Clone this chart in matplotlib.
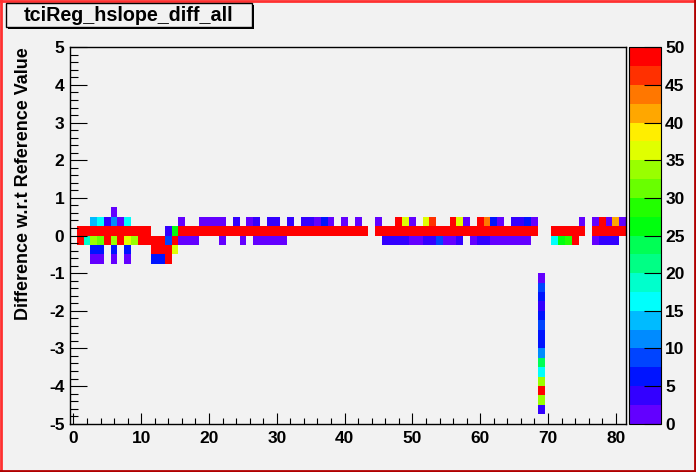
import colorsys
import numpy as np
import matplotlib
matplotlib.use("Agg")
import matplotlib.pyplot as plt
from matplotlib.colors import ListedColormap, BoundaryNorm
from matplotlib.patches import Rectangle
from matplotlib.lines import Line2D
from matplotlib.ticker import MultipleLocator

plt.rcParams["font.family"] = ["Liberation Sans", "DejaVu Sans"]
plt.rcParams["font.weight"] = "bold"
plt.rcParams["axes.unicode_minus"] = False

# ---------------- data ----------------
title = "tciReg_hslope_diff_all"
ylabel = "Difference w.r.t Reference Value"
x_lo, x_hi, n_xbins = -0.5, 81.5, 82
y_lo, y_hi, y_step = -5.0, 5.0, 0.25
z_min, z_max, n_levels = 0.0, 50.0, 20

# bin contents per y-row, keyed by x bin (row label = lower edge of the y bin)
row_p050 = {6: 1}
row_p025 = {3: 14, 4: 16, 5: 4, 6: 11, 7: 1, 8: 16, 16: 1, 19: 1, 20: 1, 21: 1,
            22: 1, 24: 4, 26: 1, 27: 4, 29: 4, 30: 4, 32: 4, 34: 4, 35: 4, 36: 1,
            37: 6, 38: 1, 40: 1, 42: 1, 45: 1, 48: 49, 49: 36, 50: 1, 52: 36,
            53: 46, 56: 49, 57: 36, 58: 1, 60: 49, 61: 44, 62: 6, 63: 1, 65: 4,
            66: 4, 67: 6, 68: 1, 75: 1, 77: 1, 78: 49, 79: 1, 80: 41, 81: 1}
row_p000 = {1: 49, 2: 49, 3: 49, 4: 49, 5: 49, 6: 49, 7: 49, 8: 49, 9: 49,
            10: 49, 11: 49, 14: 4, 15: 27,
            16: 49, 17: 49, 18: 49, 19: 49, 20: 49, 21: 49, 22: 49, 23: 49,
            24: 49, 25: 49, 26: 49, 27: 49, 28: 49, 29: 49, 30: 49, 31: 49,
            32: 49, 33: 49, 34: 49, 35: 49, 36: 49, 37: 49, 38: 49, 39: 49,
            40: 49, 41: 49, 42: 49, 43: 49,
            45: 49, 46: 49, 47: 49, 48: 49, 49: 49, 50: 49, 51: 49, 52: 49,
            53: 49, 54: 49, 55: 49, 56: 49, 57: 49, 58: 49, 59: 49, 60: 49,
            61: 49, 62: 49, 63: 49, 64: 49, 65: 49, 66: 49, 67: 49, 68: 49,
            71: 49, 72: 49, 73: 49, 74: 49, 75: 49,
            77: 49, 78: 49, 79: 49, 80: 49, 81: 49}
row_m025 = {1: 49, 2: 19, 3: 34, 4: 31, 5: 49, 6: 34, 7: 49, 8: 36, 9: 34,
            10: 49, 11: 49, 12: 49, 13: 49, 14: 9, 15: 49, 16: 1, 17: 1, 18: 1,
            22: 1, 25: 1, 27: 1, 28: 1, 29: 1, 30: 1, 31: 1,
            46: 4, 47: 4, 48: 4, 49: 4, 50: 1, 51: 1, 52: 4, 53: 4, 54: 8,
            55: 1, 56: 1, 57: 4, 59: 1, 60: 4, 61: 4, 62: 1, 63: 1, 64: 1,
            65: 1, 66: 1, 67: 1, 71: 16, 72: 26, 73: 29, 74: 49, 77: 1,
            78: 4, 79: 4, 80: 4}
row_m050 = {3: 6, 4: 6, 6: 6, 8: 6, 12: 49, 13: 49, 14: 49, 15: 36}
row_m075 = {3: 1, 4: 1, 6: 1, 8: 1, 12: 6, 13: 6, 14: 49}
rows = {0.5: row_p050, 0.25: row_p025, 0.0: row_p000,
        -0.25: row_m025, -0.5: row_m050, -0.75: row_m075}

# single column (x bin 69) from y = -1.0 down to -4.75
col_bin = 69
col_top = -1.0
col_vals = [1, 9, 6, 4, 6, 9, 6, 6, 11, 24, 16, 34, 49, 34, 4]

# ---------------- build histogram ----------------
x_edges = np.linspace(x_lo, x_hi, n_xbins + 1)
n_ybins = int(round((y_hi - y_lo) / y_step))
y_edges = np.linspace(y_lo, y_hi, n_ybins + 1)
H = np.full((n_ybins, n_xbins), np.nan)
for ylow, row in rows.items():
    k = int(round((ylow - y_lo) / y_step))
    for i, v in row.items():
        H[k, i] = v
for j, v in enumerate(col_vals):
    ylow = col_top - (j + 1) * y_step
    k = int(round((ylow - y_lo) / y_step))
    H[k, col_bin] = v

# ROOT "pretty" palette (50 colours) sampled by 20 contour levels
pal = []
for j in range(n_levels):
    idx = int((j + 0.99) * 50 / n_levels)
    hue = 280.0 - (idx + 1) * 5.6
    pal.append(colorsys.hls_to_rgb(hue / 360.0, 0.5, 1.0))
cmap = ListedColormap(pal)
bounds = np.linspace(z_min, z_max, n_levels + 1)
norm = BoundaryNorm(bounds, cmap.N, clip=True)

# ---------------- figure ----------------
W, Hpx = 696, 472
bg = "#f2f2f2"
fig = plt.figure(figsize=(W / 100, Hpx / 100), dpi=100, facecolor=bg)

def fx(px):
    return px / W

def fy(py):
    return 1 - py / Hpx

ax_l, ax_r, ax_t, ax_b = 70, 626, 47.3, 423.7
ax = fig.add_axes([fx(ax_l), fy(ax_b), fx(ax_r - ax_l), (ax_b - ax_t) / Hpx])
ax.set_facecolor(bg)
mesh = ax.pcolormesh(x_edges, y_edges, np.ma.masked_invalid(H), cmap=cmap,
                     norm=norm, edgecolors="none", antialiased=False)
ax.set_xlim(x_lo, x_hi)
ax.set_ylim(y_lo, y_hi)
ax.xaxis.set_major_locator(MultipleLocator(10))
ax.xaxis.set_minor_locator(MultipleLocator(2))
ax.yaxis.set_major_locator(MultipleLocator(1))
ax.yaxis.set_minor_locator(MultipleLocator(0.2))
ax.tick_params(axis="x", which="major", direction="in", length=11.3 * 0.72,
               width=0.8, pad=5, labelsize=12.5)
ax.tick_params(axis="x", which="minor", direction="in", length=5.6 * 0.72,
               width=0.8)
ax.tick_params(axis="y", which="major", direction="in", length=16.7 * 0.72,
               width=0.8, pad=4, labelsize=12.5)
ax.tick_params(axis="y", which="minor", direction="in", length=8.3 * 0.72,
               width=0.8)
for lab in ax.get_xticklabels() + ax.get_yticklabels():
    lab.set_fontweight("bold")
for s in ax.spines.values():
    s.set_linewidth(1.0)

fig.text(fx(24), fy(47), ylabel, rotation=90, ha="center", va="top",
         fontsize=13, fontweight="bold")

# colour bar
cax = fig.add_axes([fx(629), fy(ax_b), fx(661 - 629), (ax_b - ax_t) / Hpx])
cb = fig.colorbar(mesh, cax=cax, ticks=np.arange(0, 51, 5))
cb.outline.set_linewidth(0.8)
cax.tick_params(axis="y", direction="in", length=17 * 0.72, width=0.8,
                pad=3, labelsize=12.5, right=True, left=False)
cax.yaxis.set_minor_locator(MultipleLocator(50))
for lab in cax.get_yticklabels():
    lab.set_fontweight("bold")

# title box with shadow
fig.patches.append(Rectangle((fx(8), fy(29)), fx(246), (29 - 5) / Hpx,
                             transform=fig.transFigure, facecolor="black",
                             edgecolor="none", zorder=5))
fig.patches.append(Rectangle((fx(6), fy(27)), fx(246), (27 - 3) / Hpx,
                             transform=fig.transFigure, facecolor=bg,
                             edgecolor="black", linewidth=1.0, zorder=6))
fig.text(fx(129), fy(15.5), title, ha="center", va="center", fontsize=14.2,
         fontweight="bold", zorder=7)

# canvas border
lw = 2.0
fig.add_artist(Line2D([0, 1], [fy(1), fy(1)], transform=fig.transFigure,
                      color="#ff3030", linewidth=lw))
fig.add_artist(Line2D([fx(1), fx(1)], [0, 1], transform=fig.transFigure,
                      color="#ff3030", linewidth=lw))
fig.add_artist(Line2D([0, 1], [fy(471), fy(471)], transform=fig.transFigure,
                      color="#b00000", linewidth=lw))
fig.add_artist(Line2D([fx(695), fx(695)], [0, 1], transform=fig.transFigure,
                      color="#b00000", linewidth=lw))

fig.savefig("out.png", dpi=100, facecolor=bg)
